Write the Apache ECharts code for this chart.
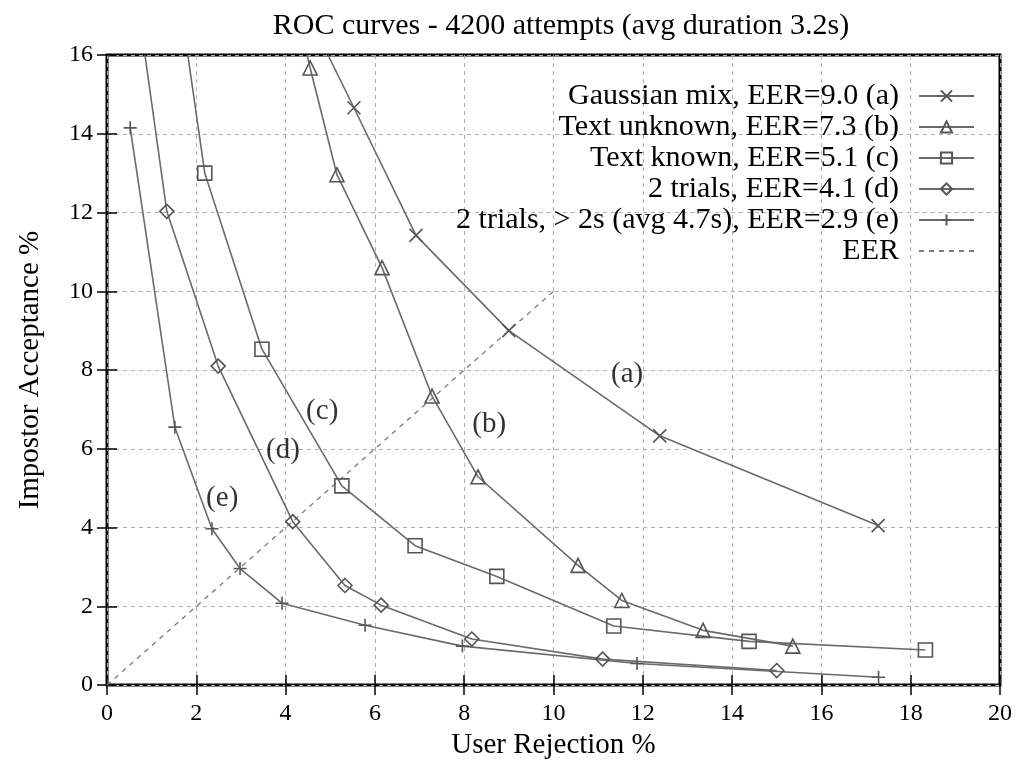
<!DOCTYPE html>
<html>
<head>
<meta charset="utf-8">
<title>ROC curves</title>
<script src="https://cdnjs.cloudflare.com/ajax/libs/echarts/6.0.0/echarts.min.js"></script>
<style>
  html, body { margin: 0; padding: 0; background: #fff; }
  #chart { width: 1028px; height: 765px; }
</style>
</head>
<body>
<div id="chart"></div>
<script>
  // values; first point of a curve sitting on y=16 is where the line leaves the frame
  var curveA = [[4.95, 16], [5.53, 14.66], [6.92, 11.42], [9.0, 9.0], [12.38, 6.33], [17.27, 4.05]];
  var curveB = [[4.48, 16], [4.55, 15.67], [5.15, 12.96], [6.16, 10.6], [7.28, 7.34], [8.31, 5.29],
                [10.55, 3.04], [11.53, 2.15], [13.35, 1.39], [15.36, 0.99]];
  var curveC = [[1.81, 16], [2.19, 13.0], [3.47, 8.53], [5.26, 5.06], [6.9, 3.54], [8.73, 2.76],
                [11.35, 1.5], [14.38, 1.11], [18.33, 0.89]];
  var curveD = [[0.85, 16], [1.34, 12.03], [2.49, 8.1], [4.16, 4.15], [5.33, 2.53], [6.14, 2.03],
                [8.17, 1.17], [11.1, 0.66], [15.0, 0.37]];
  var curveE = [[0.52, 14.15], [1.52, 6.55], [2.35, 3.97], [2.98, 2.96], [3.92, 2.08], [5.78, 1.52],
                [7.96, 0.99], [11.87, 0.55], [17.28, 0.2]];
  var eerLine = [[0, 0], [10, 10]];

  var seriesNames = [
    'Gaussian mix, EER=9.0 (a)',
    'Text unknown, EER=7.3 (b)',
    'Text known, EER=5.1 (c)',
    '2 trials, EER=4.1 (d)',
    '2 trials, > 2s (avg 4.7s), EER=2.9 (e)',
    'EER'
  ];
  var curveTags = ['(a)', '(b)', '(c)', '(d)', '(e)'];
  var tagPos = [[11.65, 7.9], [8.56, 6.63], [4.82, 6.96], [3.94, 5.95], [2.58, 4.73]];

  var FONT = '"Liberation Serif", "Times New Roman", serif';
  var LINE = '#6a6a6a';

  var SYM = {
    cross: 'path://M0,0L10,10M10,0L0,10',
    tri: 'path://M5,0L10,9L0,9Z',
    square: 'path://M0,0L10,0L10,10L0,10Z',
    diamond: 'path://M5,0L10,5L5,10L0,5Z',
    plus: 'path://M5,0L5,10M0,5L10,5'
  };

  function curve(name, data, symbol, size) {
    return {
      type: 'line',
      name: name,
      data: data.map(function (p) {
        // no marker where the line just crosses the top border
        return p[1] >= 16 ? { value: p, symbol: 'none' } : { value: p };
      }),
      symbol: symbol,
      symbolSize: size,
      showAllSymbol: true,
      lineStyle: { color: LINE, width: 1.6 },
      itemStyle: { color: 'rgba(0,0,0,0)', borderColor: '#555', borderWidth: 1.6 },
      z: 3
    };
  }

  var chart = echarts.init(document.getElementById('chart'), null, { renderer: 'canvas' });

  var gridLine = { show: true, lineStyle: { color: '#b0b0b0', width: 1, type: [4, 4] } };
  var tickIn = { show: true, inside: true, length: 10, lineStyle: { color: '#000', width: 1.5 } };

  var legendData = seriesNames.map(function (n) {
    if (n === 'EER') {
      return { name: n, itemStyle: { color: 'rgba(0,0,0,0)', borderColor: 'rgba(0,0,0,0)' } };
    }
    return { name: n };
  });

  var option = {
    backgroundColor: '#fff',
    animation: false,
    textStyle: { fontFamily: FONT, color: '#000' },
    title: {
      text: 'ROC curves - 4200 attempts (avg duration 3.2s)',
      left: 556,
      top: 6,
      textAlign: 'center',
      textStyle: { fontFamily: FONT, fontWeight: 'normal', fontSize: 30, color: '#000' }
    },
    grid: {
      left: 107, right: 28, top: 55, bottom: 78,
      show: true, borderColor: '#000', borderWidth: 3, backgroundColor: 'transparent'
    },
    legend: {
      data: legendData,
      orient: 'vertical',
      align: 'right',
      right: 48,
      top: 76,
      itemWidth: 55,
      itemHeight: 14,
      itemGap: 1,
      // gnuplot leaves a wider gap between key text and sample
      formatter: function (name) { return name + '  '; },
      textStyle: { fontFamily: FONT, fontSize: 30, color: '#000' },
      inactiveColor: '#000'
    },
    xAxis: [
      {
        type: 'value', min: 0, max: 20, interval: 2,
        name: 'User Rejection %', nameLocation: 'middle', nameGap: 42,
        nameTextStyle: { fontFamily: FONT, fontSize: 29, color: '#000' },
        axisLine: { show: false },
        axisTick: tickIn,
        axisLabel: { fontFamily: FONT, fontSize: 24, color: '#000', margin: 17 },
        splitLine: gridLine
      },
      {
        type: 'value', min: 0, max: 20, interval: 2, position: 'top',
        axisLine: { show: false }, axisTick: tickIn, axisLabel: { show: false }, splitLine: { show: false }
      }
    ],
    yAxis: [
      {
        type: 'value', min: 0, max: 16, interval: 2,
        name: 'Impostor Acceptance %', nameLocation: 'middle', nameGap: 62,
        nameTextStyle: { fontFamily: FONT, fontSize: 29, color: '#000' },
        axisLine: { show: false },
        axisTick: tickIn,
        axisLabel: { fontFamily: FONT, fontSize: 24, color: '#000', margin: 14 },
        splitLine: gridLine
      },
      {
        type: 'value', min: 0, max: 16, interval: 2, position: 'right',
        axisLine: { show: false }, axisTick: tickIn, axisLabel: { show: false }, splitLine: { show: false }
      }
    ],
    series: [
      curve(seriesNames[0], curveA, SYM.cross, 13),
      curve(seriesNames[1], curveB, SYM.tri, 14),
      curve(seriesNames[2], curveC, SYM.square, 14),
      curve(seriesNames[3], curveD, SYM.diamond, 14),
      curve(seriesNames[4], curveE, SYM.plus, 13),
      {
        type: 'line',
        name: seriesNames[5],
        data: eerLine,
        symbol: 'none',
        lineStyle: { color: '#7a7a7a', width: 1.3, type: [5, 5] },
        itemStyle: { color: '#7a7a7a' },
        z: 2
      },
      {
        type: 'scatter',
        name: 'tags',
        data: tagPos.map(function (p, i) { return { value: p, tag: curveTags[i] }; }),
        symbolSize: 0,
        label: {
          show: true,
          position: 'inside',
          fontFamily: FONT,
          fontSize: 29,
          color: '#000',
          formatter: function (p) { return p.data.tag; }
        },
        silent: true,
        z: 4
      }
    ]
  };

  chart.setOption(option);
</script>
</body>
</html>
